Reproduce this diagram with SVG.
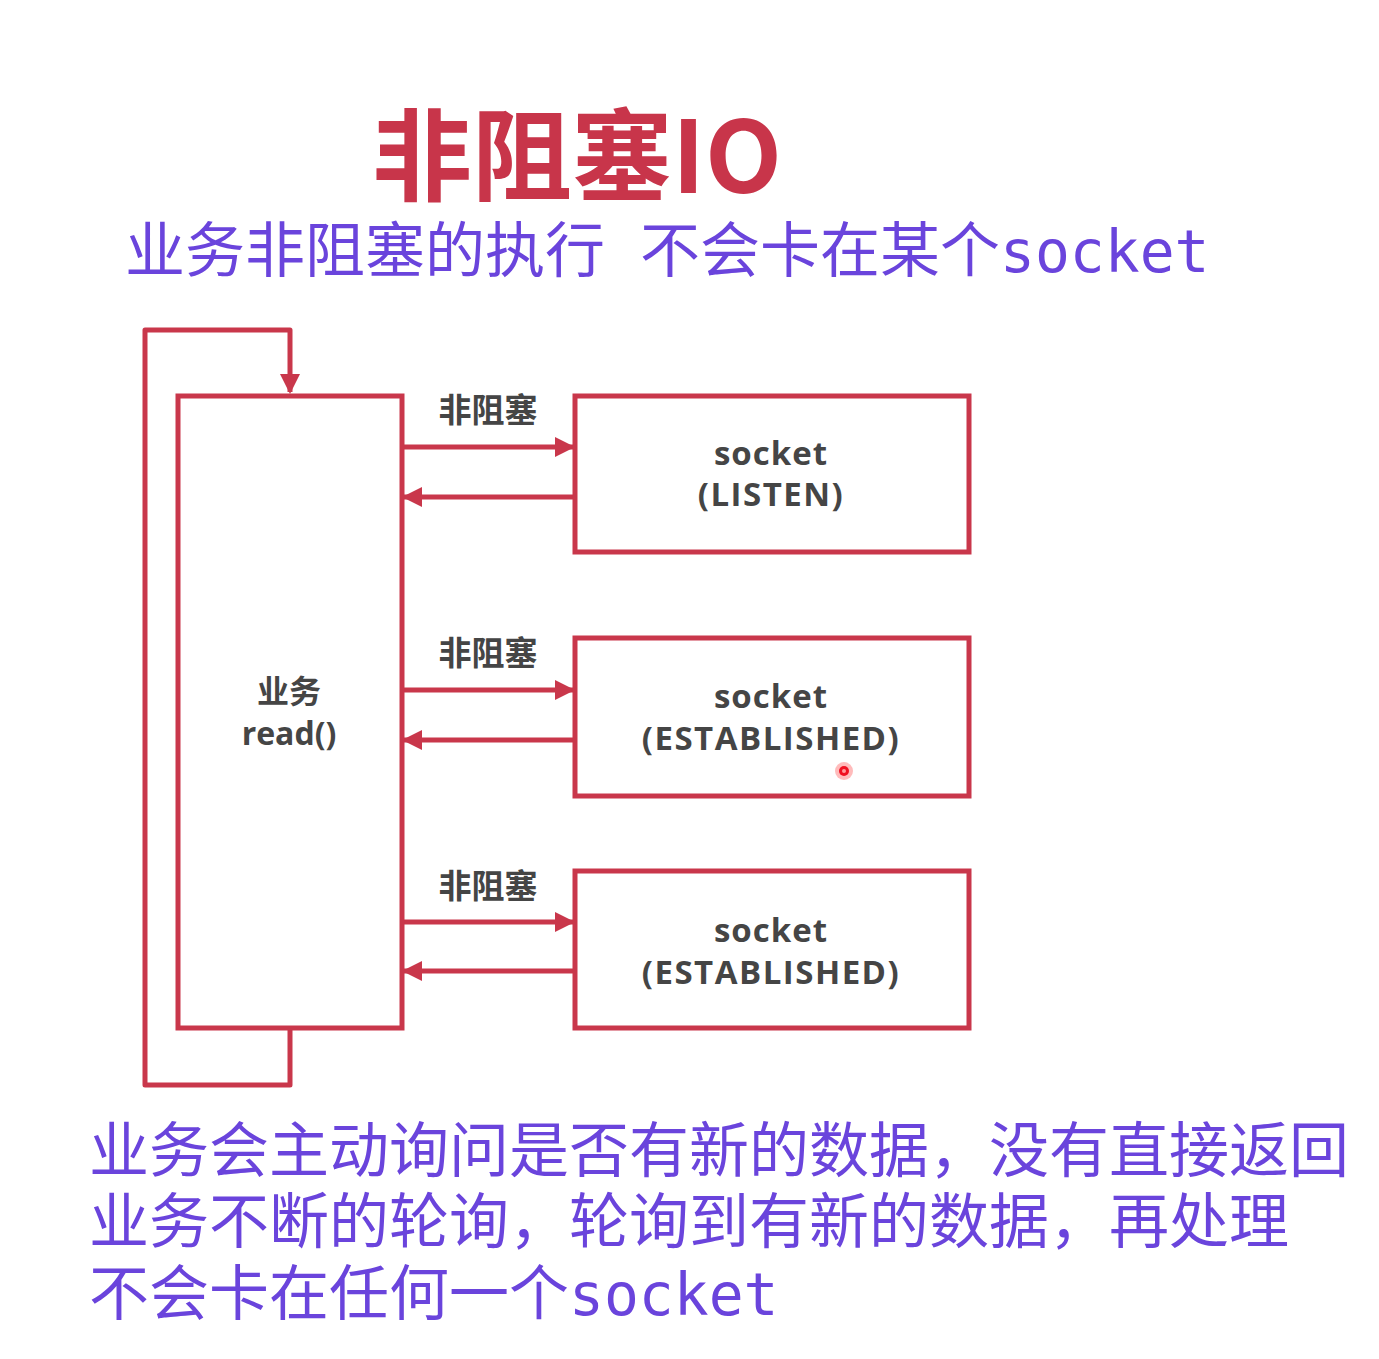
<svg xmlns="http://www.w3.org/2000/svg" width="1379" height="1359" viewBox="0 0 1379 1359">
<style>
.ln{fill:none;stroke:#c9374b;stroke-width:5;stroke-linejoin:round}
.box{fill:#fff;stroke:#c9374b;stroke-width:5}
.lbl{font-family:"Open Sans","Noto Sans CJK SC",sans-serif;font-weight:700;fill:#454545;text-anchor:middle}
.note{font-family:"DejaVu Sans Mono","Noto Sans CJK SC",monospace;font-size:60px;fill:#6a44dc}
</style>
<defs>
<marker id="ah" viewBox="0 0 10 10" refX="9" refY="5" markerWidth="4" markerHeight="4" orient="auto" markerUnits="strokeWidth">
<path d="M0,0 L10,5 L0,10 z" fill="#c9374b"/>
</marker>
</defs>
<rect width="1379" height="1359" fill="#fff"/>
<text x="372" y="193" font-family="'Noto Sans CJK SC','Noto Sans',sans-serif" font-weight="700" font-size="100" fill="#c8354a">非阻塞IO</text>
<g id="subtitle">
<text class="note" x="125" y="272">业务非阻塞的执行</text>
<text class="note" x="640" y="272">不会卡在某个<tspan font-size="58">socket</tspan></text>
</g>
<g id="connectors">
<path class="ln" d="M290,1028 V1085 H145 V330 H290 V392" marker-end="url(#ah)"/>
<line class="ln" x1="402" y1="447" x2="573" y2="447" marker-end="url(#ah)"/>
<line class="ln" x1="575" y1="497" x2="404" y2="497" marker-end="url(#ah)"/>
<line class="ln" x1="402" y1="690" x2="573" y2="690" marker-end="url(#ah)"/>
<line class="ln" x1="575" y1="740" x2="404" y2="740" marker-end="url(#ah)"/>
<line class="ln" x1="402" y1="922" x2="573" y2="922" marker-end="url(#ah)"/>
<line class="ln" x1="575" y1="971" x2="404" y2="971" marker-end="url(#ah)"/>
<text class="lbl" x="488" y="422" font-size="33">非阻塞</text>
<text class="lbl" x="488" y="665" font-size="33">非阻塞</text>
<text class="lbl" x="488" y="898" font-size="33">非阻塞</text>
</g>
<g id="business">
<rect class="box" x="178" y="396" width="224" height="632"/>
<text class="lbl" x="289" y="703" font-size="32">业务</text>
<text class="lbl" x="289" y="745" font-size="32">read()</text>
</g>
<g id="socket-listen">
<rect class="box" x="575" y="396" width="394" height="156"/>
<text class="lbl" x="771" y="465" font-size="33" letter-spacing="1">socket</text>
<text class="lbl" x="771" y="506" font-size="33" letter-spacing="1.5">(LISTEN)</text>
</g>
<g id="socket-established-1">
<rect class="box" x="575" y="638" width="394" height="158"/>
<text class="lbl" x="771" y="708" font-size="33" letter-spacing="1">socket</text>
<text class="lbl" x="771" y="750" font-size="33" letter-spacing="1.5">(ESTABLISHED)</text>
<circle cx="844" cy="771" r="9" fill="#ff3b3b" opacity="0.35"/>
<circle cx="844" cy="771" r="5" fill="#f01020"/>
<circle cx="844" cy="771" r="2" fill="#ff9a9a"/>
</g>
<g id="socket-established-2">
<rect class="box" x="575" y="871" width="394" height="157"/>
<text class="lbl" x="771" y="942" font-size="33" letter-spacing="1">socket</text>
<text class="lbl" x="771" y="984" font-size="33" letter-spacing="1.5">(ESTABLISHED)</text>
</g>
<g id="notes">
<text class="note" x="89" y="1172" font-size="61">业务会主动询问是否有新的数据，没有直接返回</text>
<text class="note" x="89" y="1243" font-size="61">业务不断的轮询，轮询到有新的数据，再处理</text>
<text class="note" x="89" y="1315" font-size="61">不会卡在任何一个<tspan font-size="58">socket</tspan></text>
</g>
</svg>
